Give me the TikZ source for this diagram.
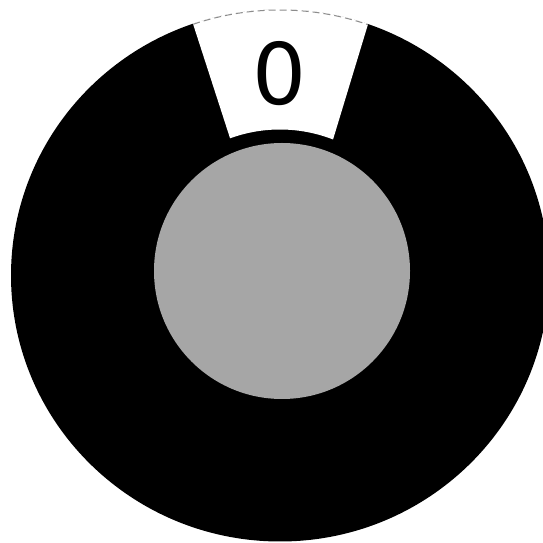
\documentclass[tikz,border=0pt]{standalone}
\usepackage{fontspec}
\newfontfamily\dialfont{DejaVu Sans}
\usetikzlibrary{calc}
\definecolor{hubgray}{RGB}{166,166,166}
\definecolor{dashgray}{RGB}{140,140,140}
\tikzset{
  dialring/.style={fill=black},
  hub/.style={fill=hubgray},
  gapwedge/.style={fill=white},
  rimdash/.style={draw=dashgray, line width=1pt, dash pattern=on 7pt off 4pt},
  dialtext/.style={font=\dialfont\fontsize{85}{85}\selectfont, inner sep=0pt, anchor=base}
}
\begin{document}
\begin{tikzpicture}[x=1pt,y=1pt]
\useasboundingbox (0,0) rectangle (543,543);
\fill[white] (0,0) rectangle (543,543);
\coordinate (C) at (280,267.5);
\coordinate (H) at (282,272);
% black ring
\fill[dialring] (C) ellipse [x radius=269, y radius=266];
% white gap wedge
\fill[gapwedge] ($(C)+(110:146)$) -- ($(C)+(108.87:269.5 and 266.5)$)
  arc[start angle=108.87, end angle=70.9, x radius=269.5, y radius=266.5]
  -- ($(C)+(68.7:146)$)
  arc[start angle=68.7, end angle=110, radius=146] -- cycle;
% dashed rim on the wedge
\draw[rimdash] ($(C)+(108.87:268.5 and 265.5)$)
  arc[start angle=108.87, end angle=70.9, x radius=268.5, y radius=265.5];
% grey hub
\fill[hub] (H) circle[radius=128];
% label
\node[dialtext] (zero) at (280,438) {0};
\end{tikzpicture}
\end{document}
